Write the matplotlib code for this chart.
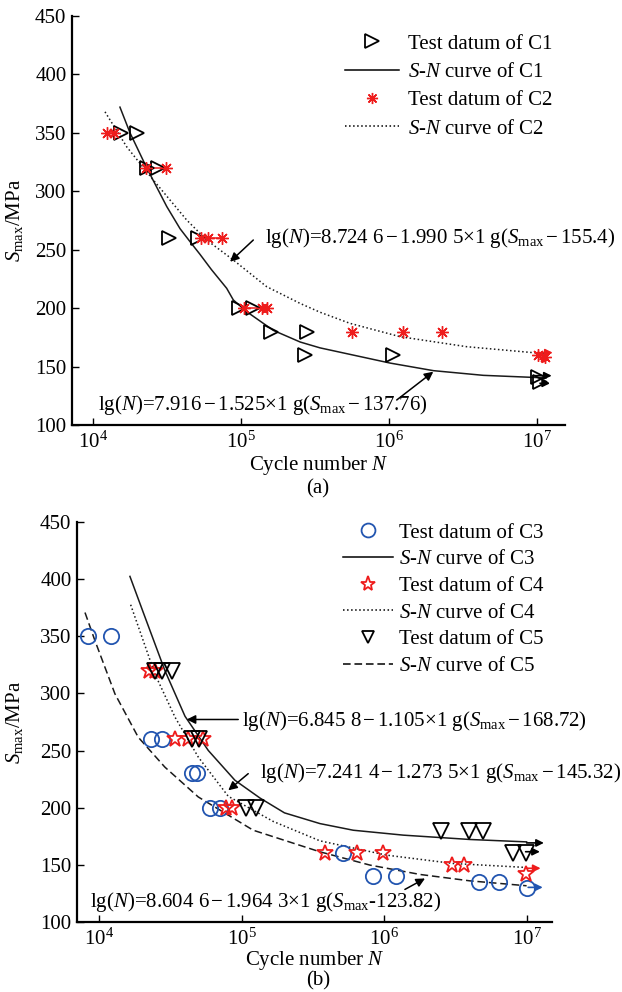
import numpy as np
import matplotlib
matplotlib.use('Agg')
import matplotlib.pyplot as plt
from matplotlib.lines import Line2D
from matplotlib.ticker import FixedLocator, FixedFormatter

plt.rcParams['font.family'] = ['Liberation Serif', 'DejaVu Serif']
plt.rcParams['mathtext.fontset'] = 'custom'
plt.rcParams['mathtext.rm'] = 'Liberation Serif'
plt.rcParams['mathtext.it'] = 'Liberation Serif:italic'
plt.rcParams['mathtext.bf'] = 'Liberation Serif:bold'

RED = '#ee1c1c'
BLUE = '#2255b0'

# ---------------- Panel (a) data ----------------
c1_N = [1.55e4, 1.98e4, 2.32e4, 2.75e4, 3.26e4, 5.1e4, 9.7e4, 1.2e5, 1.6e5, 2.8e5,
        2.7e5, 1.07e6, 1.02e7, 1.05e7]
c1_S = [350, 350, 320, 320, 260, 260, 200, 200, 180, 180, 160, 160, 141, 137]

c2_N = [1.25e4, 1.39e4, 2.27e4, 3.1e4, 5.4e4, 6.0e4, 7.4e4, 1.04e5, 1.38e5, 1.49e5,
        5.6e5, 1.24e6, 2.27e6, 1.02e7, 1.13e7]
c2_S = [350, 350, 320, 320, 260, 260, 260, 200, 200, 200, 180, 180, 180, 160, 158]
c2_linked = [350, 320, 260, 200]

c1_curve_lgN = [4.182, 4.25, 4.363, 4.498, 4.588, 4.667, 4.723, 4.80, 4.903, 4.948,
                5.038, 5.218, 5.40, 5.534, 6.007, 6.30, 6.637, 7.02, 7.06]
c1_curve_S = [372, 350, 320, 287, 268, 255, 246, 233, 217, 207,
              197, 181, 171, 166, 153, 146.5, 142.5, 140.5, 140.2]

c2_curve_lgN = [4.081, 4.228, 4.407, 4.633, 4.768, 4.948, 5.173, 5.40, 5.534, 5.736,
                6.074, 6.525, 6.975, 7.065]
c2_curve_S = [368, 338, 309.7, 275.4, 258.3, 241.2, 218.4, 204, 196.5, 187,
              175.6, 167, 161.9, 161.3]

# run-out arrows (a): start lgN, end lgN, S, colour
a_runout_lgN0 = [6.973, 7.02, 6.998, 7.02]
a_runout_lgN1 = [7.099, 7.088, 7.106, 7.088]
a_runout_S = [142.2, 135.7, 161.9, 156.2]
a_runout_col = ['k', 'k', RED, RED]

# ---------------- Panel (b) data ----------------
c3_N = [8.4e3, 1.21e4, 2.31e4, 2.78e4, 4.47e4, 4.9e4, 6.0e4, 7.05e4, 5.15e5, 8.3e5,
        1.2e6, 4.6e6, 6.35e6, 1.0e7]
c3_S = [350, 350, 260, 260, 230, 230, 200, 200, 160, 140, 140, 135, 135, 130]

c4_N = [2.24e4, 2.47e4, 3.4e4, 4.23e4, 5.37e4, 7.76e4, 8.5e4, 3.84e5, 6.46e5, 9.8e5,
        3.0e6, 3.6e6, 9.8e6]
c4_S = [320, 320, 260, 260, 260, 200, 200, 160, 160, 160, 150, 150, 142]

c5_N = [2.47e4, 2.75e4, 3.26e4, 4.47e4, 5.0e4, 1.07e5, 1.26e5, 2.5e6, 3.94e6, 4.93e6,
        8.0e6, 9.8e6]
c5_S = [320, 320, 320, 260, 260, 200, 200, 180, 180, 180, 160, 160]

c3_curve_lgN = [4.217, 4.31, 4.462, 4.603, 4.766, 4.953, 5.128, 5.30, 5.549, 5.782,
                6.133, 6.6, 6.997]
c3_curve_S = [402.4, 371, 320, 280, 250.1, 224, 208.5, 195.5, 186.1, 180.3,
              176, 172.2, 170.1]

c4_curve_lgN = [4.222, 4.392, 4.533, 4.696, 4.906, 5.221, 5.549, 6.016, 6.483, 6.997]
c4_curve_S = [377.6, 317, 279.2, 244.3, 210, 188, 171, 158.5, 151.2, 147.7]

c5_curve_lgN = [3.902, 3.972, 4.112, 4.275, 4.462, 4.696, 5.081, 5.549, 5.899, 6.25,
                6.60, 6.997]
c5_curve_S = [370.8, 346.1, 299.6, 261.7, 235.5, 209.4, 180.3, 161.4, 149.8, 141.6,
              136, 131.7]

b_runout_lgN0 = [6.997, 6.99, 6.997, 7.008]
b_runout_lgN1 = [7.118, 7.09, 7.095, 7.11]
b_runout_S = [169.2, 161.5, 147, 130.3]
b_runout_col = ['k', 'k', RED, BLUE]

yticks = [100, 150, 200, 250, 300, 350, 400, 450]
xticks = [1e4, 1e5, 1e6, 1e7]
xticklabels = ['10$^4$', '10$^5$', '10$^6$', '10$^7$']

FS = 15

fig = plt.figure(figsize=(6.22, 9.92), dpi=100)
W, H = 622, 992
axA = fig.add_axes([72 / W, 1 - 425 / H, 493 / W, 409 / H])
axB = fig.add_axes([77 / W, 1 - 922 / H, 475 / W, 400 / H])


def style_axes(ax, xlim):
    ax.set_xscale('log')
    ax.set_xlim(*xlim)
    ax.set_ylim(100, 450)
    for s in ['top', 'right']:
        ax.spines[s].set_visible(False)
    for s in ['left', 'bottom']:
        ax.spines[s].set_linewidth(1.6)
    ax.xaxis.set_major_locator(FixedLocator(xticks))
    ax.xaxis.set_major_formatter(FixedFormatter(xticklabels))
    ax.xaxis.set_minor_locator(FixedLocator([]))
    ax.set_yticks(yticks)
    ax.tick_params(axis='both', direction='in', length=5, width=1, labelsize=FS)
    ax.tick_params(axis='x', pad=5)
    ax.tick_params(axis='y', pad=4)
    ax.set_ylabel(r'$S_{\rm max}$/MPa', fontsize=FS)
    ax.set_xlabel(r'Cycle number $N$', fontsize=FS)


def runouts(ax, l0, l1, ss, cols):
    for a, b, s, c in zip(l0, l1, ss, cols):
        ax.annotate('', xy=(10 ** b, s), xytext=(10 ** a, s),
                    arrowprops=dict(arrowstyle='-|>', color=c, lw=1.2,
                                    mutation_scale=11, shrinkA=0, shrinkB=0))


def arrow(ax, start, tip):
    ax.annotate('', xy=(10 ** tip[0], tip[1]), xytext=(10 ** start[0], start[1]),
                arrowprops=dict(arrowstyle='-|>', color='k', lw=1.1,
                                mutation_scale=13, shrinkA=0, shrinkB=0))

# ---------------- Panel (a) ----------------
style_axes(axA, (10 ** 3.858, 10 ** 7.189))
axA.plot(10 ** np.array(c1_curve_lgN), c1_curve_S, '-', color='#1a1a1a', lw=1.1)
axA.plot(10 ** np.array(c2_curve_lgN), c2_curve_S, ':', color='#1a1a1a', lw=1.1)
c2N = np.array(c2_N); c2S = np.array(c2_S)
for s in c2_linked:
    m = c2S == s
    axA.plot(c2N[m], c2S[m], '-', color=RED, lw=1.1)
axA.plot(c1_N, c1_S, linestyle='none', marker='>', ms=10, mfc='none', mec='k', mew=1.3)
axA.plot(c2_N, c2_S, linestyle='none', marker=(8, 2, 0), ms=9, mec=RED, mew=1.0)
runouts(axA, a_runout_lgN0, a_runout_lgN1, a_runout_S, a_runout_col)

arrow(axA, (5.083, 258.3), (4.926, 239.7))
axA.text(10 ** 5.162, 260, r'lg($N$)=8.724 6$\,$−$\,$1.990 5×1 g($S_{\rm max}$$\,$−$\,$155.4)',
         fontsize=FS, va='center', ha='left', clip_on=False)
arrow(axA, (6.052, 121.4), (6.299, 145.6))
axA.text(10 ** 4.034, 117.1, r'lg($N$)=7.916$\,$−$\,$1.525×1 g($S_{\rm max}$$\,$−$\,$137.76)',
         fontsize=FS, va='center', ha='left', clip_on=False)

handlesA = [
    Line2D([], [], linestyle='none', marker='>', ms=10, mfc='none', mec='k', mew=1.3),
    Line2D([], [], color='k', lw=1.1),
    Line2D([], [], linestyle='none', marker=(8, 2, 0), ms=8, mec=RED, mew=1.0),
    Line2D([], [], color='k', lw=1.1, linestyle=':'),
]
labelsA = ['Test datum of C1', r'$S$-$N$ curve of C1', 'Test datum of C2', r'$S$-$N$ curve of C2']
axA.legend(handlesA, labelsA, loc='upper left', bbox_to_anchor=(345 / W, 1 - 34 / H),
           bbox_transform=fig.transFigure, frameon=False, fontsize=FS,
           handlelength=2.6, handletextpad=0.4, labelspacing=0.42, borderpad=0,
           borderaxespad=0)
axA.yaxis.set_label_coords(-0.095, 0.5)
axA.xaxis.set_label_coords(0.5, -0.07)
fig.text(318 / W, 1 - 489 / H, '(a)', fontsize=FS, ha='center', va='center')

# ---------------- Panel (b) ----------------
style_axes(axB, (10 ** 3.846, 10 ** 7.175))
axB.plot(10 ** np.array(c3_curve_lgN), c3_curve_S, '-', color='#1a1a1a', lw=1.1)
axB.plot(10 ** np.array(c4_curve_lgN), c4_curve_S, ':', color='#1a1a1a', lw=1.1)
axB.plot(10 ** np.array(c5_curve_lgN), c5_curve_S, '-', color='#1a1a1a', lw=1.1,
         dashes=(5, 2.5))
axB.plot(c3_N, c3_S, linestyle='none', marker='o', ms=11, mfc='none', mec=BLUE, mew=1.3)
axB.plot(c4_N, c4_S, linestyle='none', marker='*', ms=12, mfc='none', mec=RED, mew=1.3)
axB.plot(c5_N, c5_S, linestyle='none', marker='v', ms=11, mfc='none', mec='k', mew=1.3)
runouts(axB, b_runout_lgN0, b_runout_lgN1, b_runout_S, b_runout_col)

arrow(axB, (4.976, 277.2), (4.615, 277.2))
axB.text(10 ** 5.0, 276.3, r'lg($N$)=6.845 8$\,$−$\,$1.105×1 g($S_{\rm max}$$\,$−$\,$168.72)',
         fontsize=FS, va='center', ha='left', clip_on=False)
arrow(axB, (5.046, 229.8), (4.906, 215.2))
axB.text(10 ** 5.128, 230, r'lg($N$)=7.241 4$\,$−$\,$1.273 5×1 g($S_{\rm max}$$\,$−$\,$145.32)',
         fontsize=FS, va='center', ha='left', clip_on=False)
arrow(axB, (6.144, 128.5), (6.285, 138.1))
axB.text(10 ** 3.937, 117.5, r'lg($N$)=8.604 6$\,$−$\,$1.964 3×1 g($S_{\rm max}$-123.82)',
         fontsize=FS, va='center', ha='left', clip_on=False)

handlesB = [
    Line2D([], [], linestyle='none', marker='o', ms=10, mfc='none', mec=BLUE, mew=1.3),
    Line2D([], [], color='k', lw=1.1),
    Line2D([], [], linestyle='none', marker='*', ms=11, mfc='none', mec=RED, mew=1.3),
    Line2D([], [], color='k', lw=1.1, linestyle=':'),
    Line2D([], [], linestyle='none', marker='v', ms=9, mfc='none', mec='k', mew=1.3),
    Line2D([], [], color='k', lw=1.1, dashes=(5, 2.5)),
]
labelsB = ['Test datum of C3', r'$S$-$N$ curve of C3', 'Test datum of C4',
           r'$S$-$N$ curve of C4', 'Test datum of C5', r'$S$-$N$ curve of C5']
axB.legend(handlesB, labelsB, loc='upper left', bbox_to_anchor=(343 / W, 1 - 523 / H),
           bbox_transform=fig.transFigure, frameon=False, fontsize=FS,
           handlelength=2.4, handletextpad=0.3, labelspacing=0.34, borderpad=0,
           borderaxespad=0)
axB.yaxis.set_label_coords(-0.109, 0.5)
axB.xaxis.set_label_coords(0.5, -0.068)
fig.text(318 / W, 1 - 981 / H, '(b)', fontsize=FS, ha='center', va='center')

fig.savefig('out.png', dpi=100)
